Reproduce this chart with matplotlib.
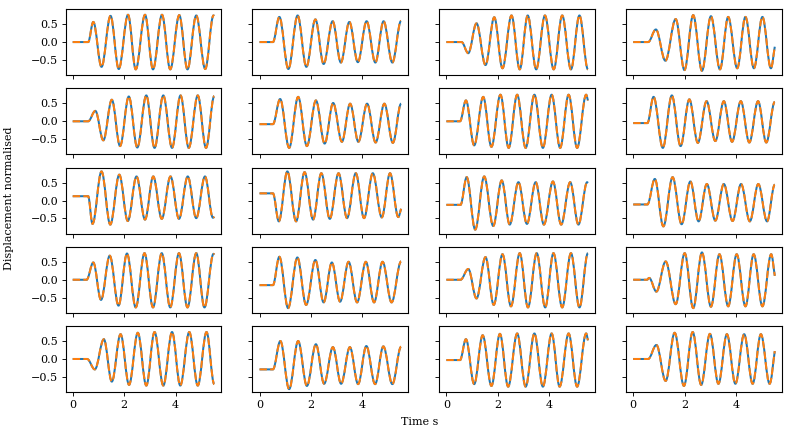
import matplotlib
matplotlib.use("Agg")
import matplotlib.pyplot as plt
from matplotlib.path import Path
from matplotlib.patches import PathPatch

# turning points: time (s) and normalised displacement
# first two points are the flat start, last point is where the record stops
t11 = [0, 0.60, 0.80, 1.12, 1.47, 1.79, 2.15, 2.45, 2.81, 3.12, 3.47, 3.79, 4.14, 4.46, 4.80, 5.15, 5.47, 5.50]
v11 = [0, 0, 0.56, -0.69, 0.73, -0.75, 0.76, -0.76, 0.76, -0.76, 0.76, -0.76, 0.75, -0.76, 0.74, -0.75, 0.74, 0.73]
t12 = [0, 0.52, 0.77, 1.12, 1.48, 1.82, 2.17, 2.49, 2.84, 3.16, 3.49, 3.82, 4.16, 4.50, 4.82, 5.16, 5.50]
v12 = [0, 0, 0.70, -0.75, 0.74, -0.69, 0.63, -0.61, 0.58, -0.57, 0.56, -0.56, 0.58, -0.57, 0.58, -0.57, 0.59]
t13 = [0, 0.59, 0.85, 1.17, 1.52, 1.86, 2.18, 2.53, 2.85, 3.16, 3.49, 3.83, 4.17, 4.50, 4.84, 5.17, 5.50]
v13 = [0, 0, -0.31, 0.52, -0.64, 0.69, -0.73, 0.74, -0.76, 0.74, -0.76, 0.74, -0.76, 0.74, -0.76, 0.74, -0.76]
t14 = [0, 0.58, 0.88, 1.25, 1.65, 1.99, 2.33, 2.67, 3.02, 3.37, 3.69, 4.04, 4.36, 4.69, 5.02, 5.35, 5.50]
v14 = [0, 0, 0.35, -0.52, 0.64, -0.78, 0.75, -0.80, 0.72, -0.76, 0.70, -0.73, 0.70, -0.73, 0.70, -0.73, -0.13]

t21 = [0, 0.60, 0.88, 1.19, 1.52, 1.84, 2.18, 2.51, 2.86, 3.18, 3.52, 3.86, 4.19, 4.51, 4.86, 5.18, 5.50]
v21 = [0, 0, 0.29, -0.53, 0.60, -0.69, 0.69, -0.73, 0.72, -0.74, 0.72, -0.74, 0.72, -0.74, 0.72, -0.74, 0.70]
t22 = [0, 0.52, 0.80, 1.15, 1.50, 1.84, 2.19, 2.53, 2.86, 3.20, 3.52, 3.84, 4.18, 4.51, 4.85, 5.18, 5.50]
v22 = [-0.08, -0.08, 0.62, -0.74, 0.68, -0.69, 0.58, -0.62, 0.51, -0.57, 0.49, -0.57, 0.49, -0.59, 0.49, -0.60, 0.49]
t23 = [0, 0.53, 0.76, 1.08, 1.43, 1.75, 2.10, 2.42, 2.75, 3.08, 3.42, 3.75, 4.09, 4.42, 4.75, 5.08, 5.43, 5.50]
v23 = [0, 0, 0.58, -0.67, 0.68, -0.71, 0.74, -0.74, 0.74, -0.74, 0.74, -0.74, 0.74, -0.74, 0.74, -0.74, 0.74, 0.58]
t24 = [0, 0.55, 0.79, 1.15, 1.50, 1.84, 2.18, 2.51, 2.85, 3.19, 3.52, 3.84, 4.18, 4.51, 4.85, 5.17, 5.50]
v24 = [-0.05, -0.05, 0.68, -0.74, 0.72, -0.69, 0.61, -0.60, 0.56, -0.55, 0.56, -0.57, 0.56, -0.59, 0.56, -0.59, 0.54]

t31 = [0, 0.60, 0.77, 1.12, 1.46, 1.81, 2.14, 2.48, 2.81, 3.13, 3.46, 3.80, 4.13, 4.47, 4.80, 5.14, 5.45, 5.50]
v31 = [0.12, 0.12, -0.65, 0.81, -0.67, 0.72, -0.57, 0.67, -0.53, 0.67, -0.51, 0.67, -0.51, 0.67, -0.49, 0.67, -0.48, -0.45]
t32 = [0, 0.52, 0.75, 1.08, 1.42, 1.75, 2.08, 2.40, 2.73, 3.07, 3.40, 3.74, 4.06, 4.40, 4.75, 5.07, 5.39, 5.50]
v32 = [0.20, 0.20, -0.58, 0.81, -0.58, 0.79, -0.53, 0.76, -0.51, 0.76, -0.49, 0.76, -0.49, 0.76, -0.47, 0.76, -0.46, -0.23]
t33 = [0, 0.55, 0.79, 1.12, 1.47, 1.82, 2.15, 2.46, 2.80, 3.13, 3.47, 3.79, 4.14, 4.46, 4.81, 5.13, 5.47, 5.50]
v33 = [-0.12, -0.12, 0.65, -0.81, 0.67, -0.71, 0.56, -0.67, 0.51, -0.65, 0.51, -0.67, 0.53, -0.67, 0.51, -0.67, 0.51, 0.49]
t34 = [0, 0.55, 0.84, 1.17, 1.53, 1.88, 2.22, 2.54, 2.86, 3.19, 3.52, 3.86, 4.19, 4.53, 4.86, 5.20, 5.50]
v34 = [-0.11, -0.11, 0.60, -0.72, 0.65, -0.66, 0.53, -0.58, 0.46, -0.56, 0.46, -0.57, 0.46, -0.58, 0.46, -0.58, 0.44]

t41 = [0, 0.54, 0.80, 1.10, 1.44, 1.78, 2.11, 2.45, 2.79, 3.12, 3.46, 3.79, 4.13, 4.46, 4.80, 5.12, 5.47, 5.50]
v41 = [0, 0, 0.48, -0.56, 0.67, -0.72, 0.73, -0.77, 0.74, -0.77, 0.74, -0.77, 0.74, -0.77, 0.74, -0.77, 0.72, 0.70]
t42 = [0, 0.52, 0.77, 1.11, 1.47, 1.81, 2.17, 2.49, 2.81, 3.13, 3.46, 3.79, 4.13, 4.45, 4.78, 5.13, 5.50]
v42 = [-0.15, -0.15, 0.64, -0.79, 0.62, -0.70, 0.55, -0.63, 0.48, -0.61, 0.50, -0.63, 0.50, -0.63, 0.50, -0.63, 0.51]
t43 = [0, 0.55, 0.85, 1.17, 1.52, 1.84, 2.18, 2.51, 2.85, 3.17, 3.51, 3.84, 4.16, 4.50, 4.84, 5.17, 5.50]
v43 = [0, 0, 0.30, -0.52, 0.63, -0.70, 0.71, -0.74, 0.74, -0.77, 0.74, -0.77, 0.74, -0.77, 0.74, -0.77, 0.74]
t44 = [0, 0.53, 0.62, 0.90, 1.26, 1.65, 2.00, 2.33, 2.67, 3.02, 3.35, 3.69, 4.02, 4.36, 4.68, 5.02, 5.36, 5.50]
v44 = [0, 0, 0.05, -0.33, 0.51, -0.68, 0.74, -0.79, 0.76, -0.75, 0.71, -0.74, 0.71, -0.74, 0.71, -0.74, 0.71, 0.11]

t51 = [0, 0.56, 0.86, 1.21, 1.52, 1.86, 2.19, 2.53, 2.86, 3.18, 3.52, 3.86, 4.18, 4.53, 4.86, 5.20, 5.50]
v51 = [0, 0, -0.29, 0.55, -0.63, 0.69, -0.72, 0.73, -0.74, 0.75, -0.74, 0.75, -0.74, 0.75, -0.74, 0.75, -0.70]
t52 = [0, 0.52, 0.81, 1.15, 1.50, 1.84, 2.19, 2.51, 2.85, 3.17, 3.51, 3.83, 4.15, 4.49, 4.81, 5.16, 5.50]
v52 = [-0.29, -0.29, 0.50, -0.84, 0.50, -0.75, 0.41, -0.69, 0.33, -0.69, 0.33, -0.70, 0.36, -0.70, 0.35, -0.70, 0.34]
t53 = [0, 0.53, 0.76, 1.08, 1.41, 1.75, 2.08, 2.40, 2.75, 3.08, 3.42, 3.75, 4.09, 4.40, 4.75, 5.08, 5.43, 5.50]
v53 = [-0.03, -0.03, 0.55, -0.70, 0.66, -0.75, 0.70, -0.77, 0.71, -0.77, 0.71, -0.77, 0.71, -0.77, 0.71, -0.77, 0.71, 0.52]
t54 = [0, 0.58, 0.90, 1.26, 1.61, 1.97, 2.31, 2.64, 2.98, 3.31, 3.64, 3.97, 4.31, 4.64, 4.96, 5.30, 5.50]
v54 = [0, 0, 0.39, -0.61, 0.73, -0.75, 0.75, -0.72, 0.70, -0.69, 0.69, -0.69, 0.69, -0.69, 0.69, -0.69, 0.22]

times = [[t11, t12, t13, t14], [t21, t22, t23, t24], [t31, t32, t33, t34],
         [t41, t42, t43, t44], [t51, t52, t53, t54]]
disps = [[v11, v12, v13, v14], [v21, v22, v23, v24], [v31, v32, v33, v34],
         [v41, v42, v43, v44], [v51, v52, v53, v54]]

K = 0.364  # bezier handle that makes a half cosine between turning points
DPI = 80


def wave_path(t, v):
    verts = [(t[0], v[0]), (t[1], v[1])]
    codes = [Path.MOVETO, Path.LINETO]
    n = len(t)
    for i in range(1, n - 1):
        dt = t[i + 1] - t[i]
        c1 = (t[i] + K * dt, v[i])
        if i == n - 2 and dt < 0.28:
            c2 = (t[i + 1] - dt / 3, v[i + 1] - (v[i + 1] - v[i]) / 3)
        else:
            c2 = (t[i + 1] - K * dt, v[i + 1])
        verts += [c1, c2, (t[i + 1], v[i + 1])]
        codes += [Path.CURVE4] * 3
    return Path(verts, codes)


def main():
    plt.rcParams['font.family'] = 'serif'
    plt.rcParams['font.size'] = 10
    plt.rcParams['axes.linewidth'] = 1.0
    fig, axes = plt.subplots(5, 4, sharex=True, sharey=True,
                             figsize=(785 / DPI, 431 / DPI), dpi=DPI)
    fig.subplots_adjust(left=0.0836, right=0.996, top=0.979, bottom=0.0905,
                        wspace=0.2, hspace=0.2)
    for r in range(5):
        for c in range(4):
            ax = axes[r][c]
            t = times[r][c]
            v = disps[r][c]
            ax.add_patch(PathPatch(wave_path(t, v), fill=False, edgecolor='C0', lw=1.8))
            ax.add_patch(PathPatch(wave_path(t, v), fill=False, edgecolor='C1', lw=1.8,
                                   linestyle='--'))
    span = t11[-1] - t11[0]
    axes[0][0].set_xlim(t11[0] - 0.05 * span, t11[-1] + 0.05 * span)
    axes[0][0].set_ylim(-0.92, 0.92)
    axes[0][0].set_xticks([0, 2, 4])
    axes[0][0].set_yticks([-0.5, 0.0, 0.5])
    fig.text(0.535, 0.021, 'Time s', ha='center', va='center')
    fig.text(0.011, 0.54, 'Displacement normalised', ha='center', va='center',
             rotation=90)
    fig.savefig('out.png', dpi=DPI)


if __name__ == '__main__':
    main()
